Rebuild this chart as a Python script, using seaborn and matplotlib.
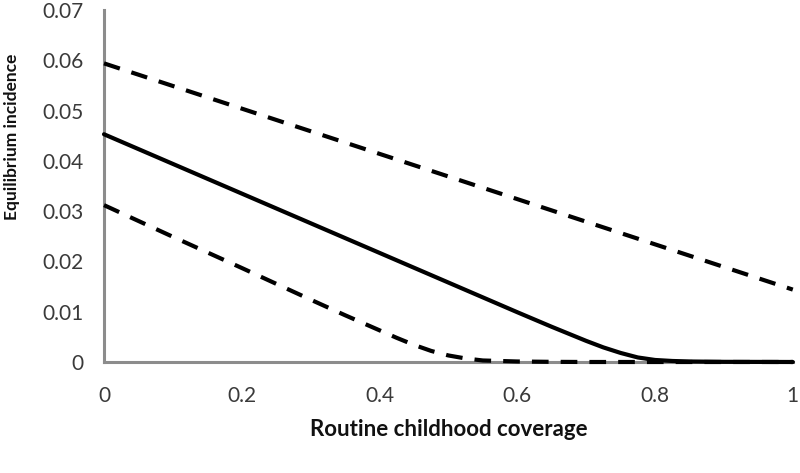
import matplotlib
matplotlib.use("Agg")
import matplotlib.pyplot as plt
import seaborn as sns

# coverage grid and equilibrium incidence
central_x = [0.0, 0.1, 0.2, 0.3, 0.4, 0.5, 0.6, 0.65, 0.7, 0.725, 0.75,
             0.775, 0.8, 0.825, 0.85, 0.9, 1.0]
central_y = [0.0453, 0.0394, 0.0335, 0.0276, 0.0217, 0.0158, 0.0099, 0.0070,
             0.0042, 0.0029, 0.0018, 0.0009, 0.0004, 0.0002, 0.0001, 0.00003, 0.0]

upper_x = [0.0, 1.0]
upper_y = [0.0594, 0.0144]

lower_x = [0.0, 0.1, 0.2, 0.3, 0.35, 0.4, 0.425, 0.45, 0.475, 0.5, 0.525,
           0.55, 0.6, 0.65, 0.7, 1.0]
lower_y = [0.0312, 0.0249, 0.0187, 0.0124, 0.0093, 0.0063, 0.0048, 0.0034,
           0.0022, 0.0013, 0.0007, 0.0003, 0.0001, 0.00003, 0.0, 0.0]

x_ticks = [0, 0.2, 0.4, 0.6, 0.8, 1]
x_tick_labels = ['0', '0.2', '0.4', '0.6', '0.8', '1']
y_ticks = [0, 0.01, 0.02, 0.03, 0.04, 0.05, 0.06, 0.07]
y_tick_labels = ['0', '0.01', '0.02', '0.03', '0.04', '0.05', '0.06', '0.07']

sns.set_style("white")
plt.rcParams['font.family'] = ['Lato', 'DejaVu Sans']

fig = plt.figure(figsize=(8, 4.73), dpi=100)
ax = fig.add_axes([0.13, 0.2347, 0.861, 0.744])

lw = 3.0
dash = [4.0, 2.9]
sns.lineplot(x=upper_x, y=upper_y, ax=ax, color='black', linewidth=lw,
             clip_on=False)
ax.lines[-1].set_dashes(dash)
sns.lineplot(x=lower_x, y=lower_y, ax=ax, color='black', linewidth=lw,
             clip_on=False)
ax.lines[-1].set_dashes(dash)
sns.lineplot(x=central_x, y=central_y, ax=ax, color='black', linewidth=lw,
             clip_on=False)

ax.set_xlim(0, 1)
ax.set_ylim(0, 0.07)
ax.set_xticks(x_ticks)
ax.set_xticklabels(x_tick_labels)
ax.set_yticks(y_ticks)
ax.set_yticklabels(y_tick_labels)

grey = '#8c8c8c'
for side in ['top', 'right']:
    ax.spines[side].set_visible(False)
for side in ['left', 'bottom']:
    ax.spines[side].set_color(grey)
    ax.spines[side].set_linewidth(2.2)
    ax.spines[side].set_zorder(0)

ax.tick_params(axis='both', direction='out', length=5, width=2.2, color=grey,
               labelsize=15, labelcolor='#3a3a3a')
ax.tick_params(axis='x', pad=12)
ax.tick_params(axis='y', pad=10)

ax.set_xlabel('Routine childhood coverage', fontsize=16, fontweight='bold',
              labelpad=10, color='#111111')
ax.set_ylabel('Equilibrium incidence', fontsize=12.5, fontweight='bold',
              color='#111111')
ax.yaxis.set_label_coords(-0.122, 0.639)

fig.savefig('out.png', dpi=100)
